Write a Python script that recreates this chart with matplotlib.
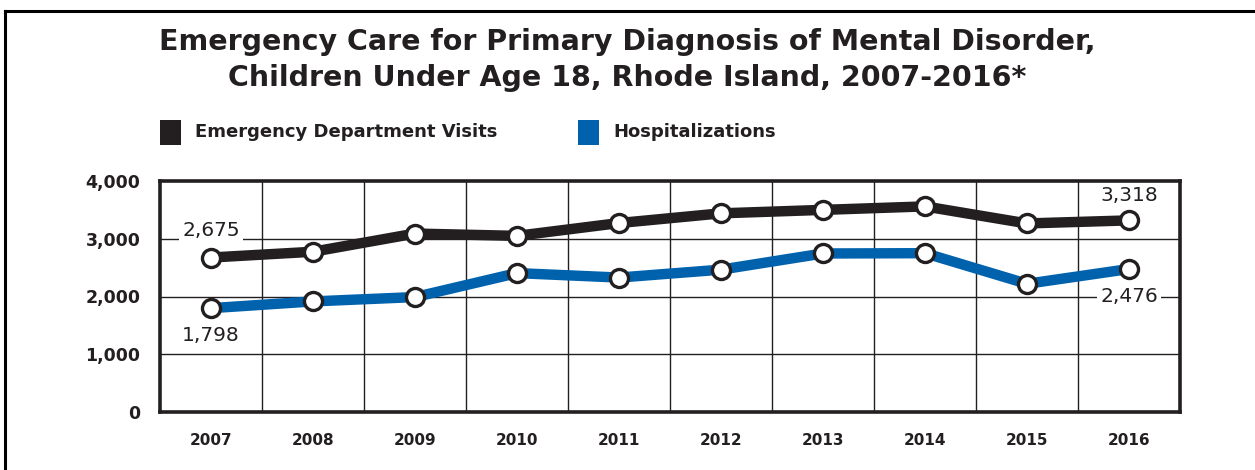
#!/usr/bin/env python3
"""Emergency care for mental disorder, children under 18, Rhode Island 2007-2016."""
import matplotlib
matplotlib.use("Agg")
import matplotlib.pyplot as plt
from matplotlib.lines import Line2D
from matplotlib.patches import Rectangle

years = ["2007", "2008", "2009", "2010", "2011", "2012", "2013", "2014", "2015", "2016"]
ed_visits = [2675, 2775, 3090, 3050, 3272, 3440, 3500, 3560, 3265, 3318]
hospitalizations = [1798, 1915, 1990, 2405, 2328, 2465, 2745, 2750, 2220, 2476]
y_ticks = [0, 1000, 2000, 3000, 4000]
y_tick_labels = ["0", "1,000", "2,000", "3,000", "4,000"]
series_names = ["Emergency Department Visits", "Hospitalizations"]

BLACK = "#231f20"
BLUE = "#0062ad"
TEXT = "#231f20"

plt.rcParams["font.family"] = ["DejaVu Sans"]

fig = plt.figure(figsize=(12.55, 4.7), dpi=100)
ax = fig.add_axes([160 / 1255, 1 - 412 / 470, 1020 / 1255, 231 / 470])

x = list(range(len(years)))
for vals, color in [(ed_visits, BLACK), (hospitalizations, BLUE)]:
    ax.plot(x, vals, color=color, linewidth=7.5, solid_capstyle="butt", zorder=3)
    ax.plot(x, vals, linestyle="none", marker="o", markersize=13,
            markerfacecolor="white", markeredgecolor=BLACK, markeredgewidth=2.4, zorder=4)

ax.set_xlim(-0.5, len(years) - 0.5)
ax.set_ylim(0, 4000)
ax.set_yticks(y_ticks)
ax.set_yticklabels(y_tick_labels, fontsize=12.5, fontweight="bold", color=TEXT)
ax.set_xticks(x)
ax.set_xticklabels(years, fontsize=11, fontweight="bold", color=TEXT)
ax.tick_params(length=0, axis="y", pad=14)
ax.tick_params(length=0, axis="x", pad=15)

# grid: horizontal at ticks, vertical between categories
for yv in y_ticks[1:-1]:
    ax.axhline(yv, color=BLACK, linewidth=1.0, zorder=1)
for xv in x[:-1]:
    ax.axvline(xv + 0.5, color=BLACK, linewidth=1.0, zorder=1)
for sp in ax.spines.values():
    sp.set_linewidth(2.6)
    sp.set_color(BLACK)

# value labels at first and last points (white box breaks the grid line behind)
lab_kw = dict(fontsize=14.5, color=TEXT, ha="center", va="center", zorder=5,
              textcoords="offset points")
box = dict(facecolor="white", edgecolor="none", pad=2)
ax.annotate(f"{ed_visits[0]:,}", (0, ed_visits[0]), xytext=(0, 19.5), bbox=box, **lab_kw)
ax.annotate(f"{hospitalizations[0]:,}", (0, hospitalizations[0]), xytext=(0, -20), bbox=box, **lab_kw)
ax.annotate(f"{ed_visits[-1]:,}", (9, ed_visits[-1]), xytext=(0, 18), **lab_kw)
ax.annotate(f"{hospitalizations[-1]:,}", (9, hospitalizations[-1]), xytext=(0, -19.5), bbox=box, **lab_kw)

# title
fig.text(0.5, 1 - 42 / 470, "Emergency Care for Primary Diagnosis of Mental Disorder,",
         ha="center", va="center", fontsize=20.5, fontweight="bold", color=TEXT)
fig.text(0.5, 1 - 78 / 470, "Children Under Age 18, Rhode Island, 2007-2016*",
         ha="center", va="center", fontsize=20.5, fontweight="bold", color=TEXT)

# legend
for (x0, name, color) in [(160, series_names[0], BLACK), (578, series_names[1], BLUE)]:
    fig.add_artist(Rectangle((x0 / 1255, 1 - 145 / 470), 21 / 1255, 25 / 470,
                             transform=fig.transFigure, facecolor=color, edgecolor="none"))
    fig.text((x0 + 35) / 1255, 1 - 132 / 470, name, ha="left", va="center",
             fontsize=13, fontweight="bold", color=TEXT)

# page border (top and left)
fig.add_artist(Line2D([5 / 1255, 1], [1 - 11 / 470, 1 - 11 / 470], transform=fig.transFigure,
                      color="black", linewidth=2.2))
fig.add_artist(Line2D([5 / 1255, 5 / 1255], [0, 1 - 11 / 470], transform=fig.transFigure,
                      color="black", linewidth=2.2))

fig.savefig("out.png", dpi=100)
